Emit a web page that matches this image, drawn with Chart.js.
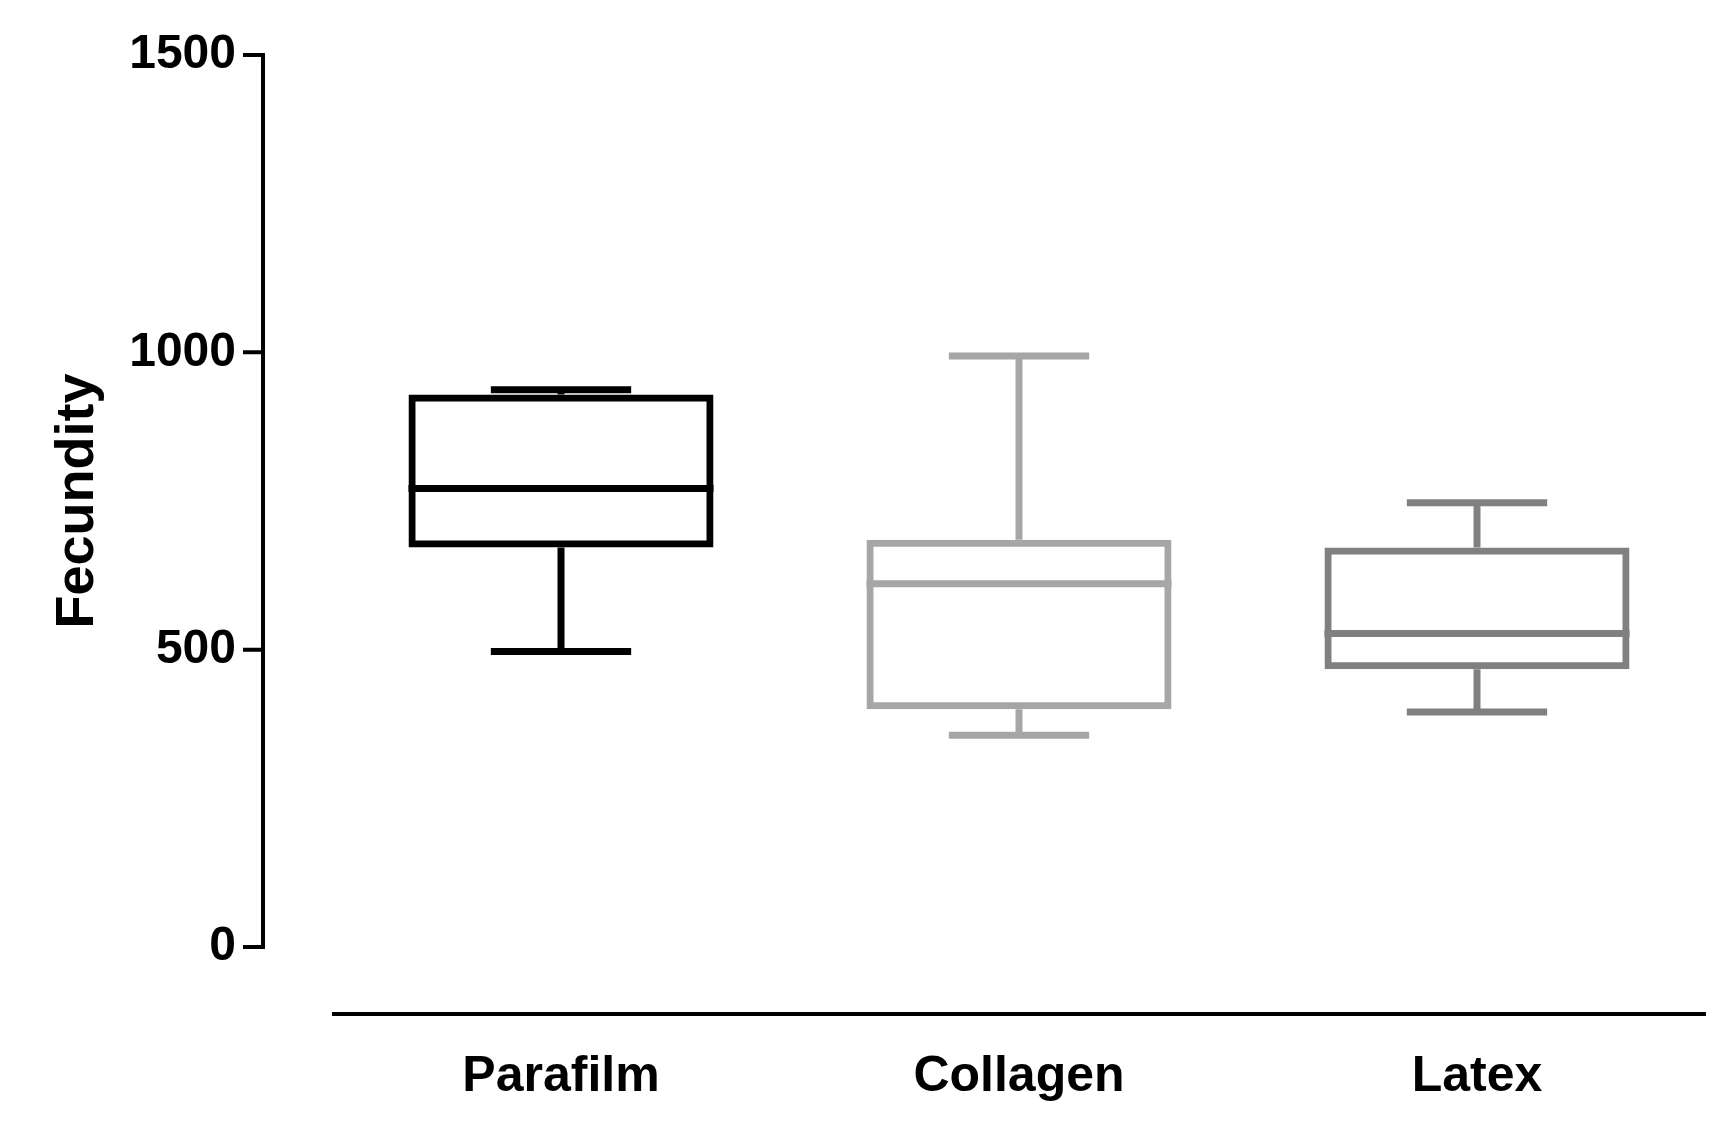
<!DOCTYPE html>
<html>
<head>
<style>
  html, body { margin: 0; background: #fff; }
  #wrap { width: 1728px; height: 1121px; }
</style>
<script src="https://cdn.jsdelivr.net/npm/chart.js@4"></script>
</head>
<body>
<div id="wrap"><canvas id="grafico"></canvas></div>
<script>
const categorias = ['Parafilm', 'Collagen', 'Latex'];
const minimos = [497, 356, 395];
const q1 = [672, 400, 467];
const medianas = [771, 611, 527];
const q3 = [929, 685, 672];
const maximos = [937, 994, 747];
const cores = ['#000000', '#a6a6a6', '#808080'];
const yTicks = [0, 500, 1000, 1500];

const LW = 7;

// desenha bigodes, medianas e os eixos
const boxPlugin = {
  id: 'boxPlugin',
  afterDatasetsDraw(chart) {
    const c = chart.ctx;
    const y = chart.scales.y;
    const meta = chart.getDatasetMeta(0);
    c.save();
    c.lineWidth = LW;
    c.lineCap = 'butt';
    meta.data.forEach((bar, i) => {
      const half = bar.width / 2;
      const cap = bar.width * 0.23;
      c.strokeStyle = cores[i];
      const yMed = y.getPixelForValue(medianas[i]);
      c.beginPath();
      c.moveTo(bar.x - half, yMed); c.lineTo(bar.x + half, yMed);
      // bigode superior
      c.moveTo(bar.x, y.getPixelForValue(q3[i])); c.lineTo(bar.x, y.getPixelForValue(maximos[i]));
      c.moveTo(bar.x - cap, y.getPixelForValue(maximos[i])); c.lineTo(bar.x + cap, y.getPixelForValue(maximos[i]));
      // bigode inferior
      c.moveTo(bar.x, y.getPixelForValue(q1[i])); c.lineTo(bar.x, y.getPixelForValue(minimos[i]));
      c.moveTo(bar.x - cap, y.getPixelForValue(minimos[i])); c.lineTo(bar.x + cap, y.getPixelForValue(minimos[i]));
      c.stroke();
    });
    // eixo Y
    const ax = 263;
    c.strokeStyle = '#000';
    c.lineWidth = 4;
    c.beginPath();
    c.moveTo(ax, y.getPixelForValue(1500) - 2); c.lineTo(ax, y.getPixelForValue(0) + 2);
    yTicks.forEach(v => {
      const py = y.getPixelForValue(v);
      c.moveTo(ax - 20, py); c.lineTo(ax, py);
    });
    // eixo X
    const area = chart.chartArea;
    c.moveTo(area.left, 1014); c.lineTo(area.right, 1014);
    c.stroke();
    c.restore();
  }
};

const ctx = document.getElementById('grafico').getContext('2d');
new Chart(ctx, {
  type: 'bar',
  data: {
    labels: categorias,
    datasets: [{
      data: categorias.map((_, i) => [q1[i], q3[i]]),
      backgroundColor: 'rgba(0,0,0,0)',
      borderColor: cores,
      borderWidth: LW,
      borderSkipped: false,
      barPercentage: 0.666,
      categoryPercentage: 1
    }]
  },
  options: {
    responsive: true,
    maintainAspectRatio: false,
    animation: false,
    layout: { padding: { top: 55, right: 22, bottom: 20, left: 20 } },
    plugins: { legend: { display: false }, tooltip: { enabled: false } },
    scales: {
      x: {
        afterFit: s => { s.height = 154; s.paddingLeft = 0; s.paddingRight = 0; },
        grid: { display: false, drawTicks: false },
        border: { display: false },
        ticks: { color: '#000', padding: 100, maxRotation: 0, font: { family: 'Liberation Sans', size: 50, weight: 'bold' } }
      },
      y: {
        min: 0, max: 1500,
        afterBuildTicks: s => { s.ticks = yTicks.map(v => ({ value: v })); },
        afterFit: s => { s.width = 312; s.paddingTop = 0; s.paddingBottom = 0; },
        grid: { display: false, drawTicks: false },
        border: { display: false },
        ticks: { color: '#000', padding: 96, callback: v => String(v), font: { family: 'Liberation Sans', size: 48, weight: 'bold' } },
        title: {
          display: true, text: 'Fecundity', color: '#000', padding: { top: 26, bottom: 0 },
          font: { family: 'Liberation Sans', size: 54, weight: 'bold' }
        }
      }
    }
  },
  plugins: [boxPlugin]
});
</script>
</body>
</html>
